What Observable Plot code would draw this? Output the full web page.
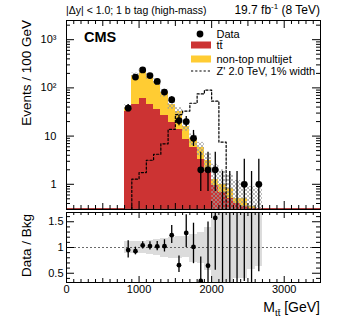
<!DOCTYPE html>
<html><head><meta charset="utf-8">
<script src="https://cdn.jsdelivr.net/npm/d3@7"></script>
<script src="https://cdn.jsdelivr.net/npm/@observablehq/plot@0.6"></script>
<style>
body{margin:0;background:#fff;}
#chart{position:relative;width:341px;height:320px;font-family:"Liberation Sans",Arial,Helvetica,sans-serif;}
#chart svg{position:absolute;left:0;overflow:visible;}
</style></head><body><div id="chart"></div>
<script>
// ---- data ----
const binWidth = 100;
const binLow    = [800,900,1000,1100,1200,1300,1400,1500,1600,1700,1800,1900,2000,2100,2200,2300,2400,2500,2600];
const dataCounts= [38,168,236,180,136,82,57,21,20,9,2,2,2,0,0,0,1,0,1];
const errDown   = [6.1,12.9,15.4,13.4,11.7,9.0,7.5,4.6,4.4,2.9,1.29,1.29,1.29,0,0,0,0.83,0,0.83];
const errUp     = [7.2,14.0,16.4,14.4,12.7,10.1,8.6,5.7,5.5,4.1,2.64,2.64,2.64,1.84,1.84,1.84,2.3,1.84,2.3];
const ttbar     = [33,45,60,45,36,27,19,14,8.7,5.7,3.3,1.9,0.95,0.68,0.5,0.4,0.35,0.3,0.28];
const multijet  = [7,136,167,130,97,53,27,18,6.9,3.2,2.4,1.2,0.32,0.32,0.3,0.1,0.15,0.05,0.04];
const bandLo    = [35.2,159,200,150,112,64,36,25,12.6,6.3,3.9,1.7,0.2,0.2,0.2,0.2,0.2,0.2,0.2];
const bandHi    = [44.8,203,254,198,153,94,55,39,19,11.1,7.4,4.3,2.6,2.0,1.6,1.2,1.1,0.9,0.8];
const zLow      = [900,1000,1100,1200,1300,1400,1500,1600,1700,1800,1900,2000,2100];
const zPrime    = [1.28,1.75,3.15,4.2,6.9,13.8,28,33,48,75,90,53,7.5];
const xTickLabels = [0,1000,2000,3000];
const yTickLabels = [1,10,100,1000];
const ratioTickLabels = [0.5,1,1.5];

const FONT = '"Liberation Sans", Arial, Helvetica, sans-serif';
const RED = "#cc3333", YEL = "#ffcc33";
const DASH = "2.2,2";

const rows = binLow.map((lo,i)=>({lo, hi: lo+binWidth, c: lo+binWidth/2,
  ttbar: ttbar[i], total: ttbar[i]+multijet[i], n: dataCounts[i], dn: errDown[i], up: errUp[i],
  bandLo: bandLo[i], bandHi: bandHi[i]}));
const zpts = [{x: zLow[0], y: 0.01}, ...zLow.map((x,i)=>({x, y: zPrime[i]})),
  {x: zLow[zLow.length-1]+binWidth, y: zPrime[zPrime.length-1]}, {x: zLow[zLow.length-1]+binWidth, y: 0.01}];

const W = 341, ML = 66, MR = 21;
const fw = W - ML - MR;
const xMinor = d3.range(0, 3501, 100).filter(v => v % 500 !== 0);
const xMid = d3.range(500, 3501, 1000);
const xMajor = d3.range(0, 3501, 1000);

function xTicks(fh, lmin, lmid, lmaj) {
  return [
    Plot.ruleX(xMinor, {x: d=>d, insetTop: fh-lmin, stroke:"black"}),
    Plot.ruleX(xMinor, {x: d=>d, insetBottom: fh-lmin, stroke:"black"}),
    Plot.ruleX(xMid, {x: d=>d, insetTop: fh-lmid, stroke:"black"}),
    Plot.ruleX(xMid, {x: d=>d, insetBottom: fh-lmid, stroke:"black"}),
    Plot.ruleX(xMajor, {x: d=>d, insetTop: fh-lmaj, stroke:"black"}),
    Plot.ruleX(xMajor, {x: d=>d, insetBottom: fh-lmaj, stroke:"black"})
  ];
}
function yTicks(minor, major, lmin, lmaj) {
  return [
    Plot.ruleY(minor, {y: d=>d, insetRight: fw-lmin, stroke:"black"}),
    Plot.ruleY(minor, {y: d=>d, insetLeft: fw-lmin, stroke:"black"}),
    Plot.ruleY(major, {y: d=>d, insetRight: fw-lmaj, stroke:"black"}),
    Plot.ruleY(major, {y: d=>d, insetLeft: fw-lmaj, stroke:"black"})
  ];
}

// ---- main panel ----
const mainH = 210, mainTop = 20, mainBot = 1;
const logMinor = [];
[0.1,1,10,100,1000].forEach(dec => d3.range(2,10).forEach(k => { const v = k*dec; if (v>=0.3 && v<=2500) logMinor.push(v); }));
const supers = {1:"1", 10:"10", 100:"10\u00B2", 1000:"10\u00B3"};

const main = Plot.plot({
  width: W, height: mainH, marginLeft: ML, marginRight: MR, marginTop: mainTop, marginBottom: mainBot,
  style: {background: "transparent", fontFamily: FONT, fontSize: "11px", overflow: "visible"},
  x: {domain: [0, 3500], axis: null},
  y: {type: "log", domain: [0.3, 2500], axis: null},
  marks: [
    Plot.rect(rows, {x1: "lo", x2: "hi", y1: () => 0.01, y2: "total", fill: YEL, clip: true, shapeRendering: "crispEdges"}),
    Plot.rect(rows, {x1: "lo", x2: "hi", y1: () => 0.01, y2: "ttbar", fill: RED, clip: true, shapeRendering: "crispEdges"}),
    Plot.ruleY([0.3], {stroke: "#b04040", dy: -1, strokeWidth: 1}),
    Plot.rect(rows, {x1: "lo", x2: "hi", y1: "bandLo", y2: "bandHi", fill: "url(#hatch)", clip: true}),
    Plot.line(zpts, {x: "x", y: "y", curve: "step-after", stroke: "black", strokeWidth: 1.2, strokeDasharray: DASH, clip: true}),
    Plot.ruleX(rows, {x: "c", y1: d => Math.max(d.n - d.dn, 0.01), y2: d => d.n + d.up, stroke: "black", strokeWidth: 1.3, clip: true}),
    Plot.dot(rows.filter(d => d.n > 0), {x: "c", y: "n", r: 3.4, fill: "black", stroke: "none"}),
    ...xTicks(mainH - mainTop - mainBot, 4, 6, 8),
    ...yTicks(logMinor, yTickLabels, 4, 8),
    Plot.frame({stroke: "black"}),
    Plot.axisY({ticks: yTickLabels, tickSize: 0, tickPadding: 10, tickFormat: d => supers[d], fontSize: 11, fill: "black"})
  ]
});
main.style.top = "0px";
{
  const defs = d3.select(main).insert("defs", ":first-child");
  const p = defs.append("pattern").attr("id", "hatch").attr("patternUnits", "userSpaceOnUse").attr("width", 4).attr("height", 4);
  p.append("path").attr("d", "M-1,1L1,-1M0,4L4,0M3,5L5,3").attr("stroke", "#999").attr("stroke-width", 0.7);
  p.append("path").attr("d", "M-1,3L1,5M0,0L4,4M3,-1L5,1").attr("stroke", "#999").attr("stroke-width", 0.7);
}

// ---- ratio panel ----
const rH = 110, rTop = 2, rBot = 38;
const ratioMinor = d3.range(4, 17).map(k => k/10).filter(v => Math.abs(v*2 - Math.round(v*2)) > 1e-6);
const ratio = Plot.plot({
  width: W, height: rH, marginLeft: ML, marginRight: MR, marginTop: rTop, marginBottom: rBot,
  style: {background: "transparent", fontFamily: FONT, fontSize: "11px", overflow: "visible"},
  x: {domain: [0, 3500], axis: null},
  y: {domain: [0.32, 1.68], axis: null},
  marks: [
    Plot.rect(rows, {x1: "lo", x2: "hi", y1: d => d.bandLo/d.total, y2: d => d.bandHi/d.total, fill: "#dcdcdc", clip: true, shapeRendering: "crispEdges"}),
    Plot.ruleY([1], {stroke: "#444", strokeDasharray: "2,2", strokeWidth: 0.8}),
    Plot.ruleX(rows, {x: "c", y1: d => (d.n - d.dn)/d.total, y2: d => (d.n + d.up)/d.total, stroke: "black", strokeWidth: 1.3, clip: true}),
    Plot.dot(rows.filter(d => d.n > 0), {x: "c", y: d => d.n/d.total, r: 2.4, fill: "black", stroke: "none", clip: true}),
    ...xTicks(rH - rTop - rBot, 3, 4, 6),
    ...yTicks(ratioMinor, ratioTickLabels, 4, 8),
    Plot.frame({stroke: "black"}),
    Plot.axisY({ticks: ratioTickLabels, tickSize: 0, tickPadding: 3, tickFormat: d => String(d), fontSize: 11, fill: "black"}),
    Plot.axisX({ticks: xTickLabels, tickSize: 0, tickPadding: 3, tickFormat: d => String(d), fontSize: 11, fill: "black"})
  ]
});
ratio.style.top = "210px";

const chart = document.getElementById("chart");
chart.appendChild(main);
chart.appendChild(ratio);

// ---- text overlay: titles, CMS label, legend ----
const ov = d3.select(chart).append("svg").attr("width", W).attr("height", 320)
  .style("top", "0px").style("pointer-events", "none").style("font-family", FONT);
ov.append("text").attr("x", 66).attr("y", 13.5).attr("font-size", 10.5).text("|\u0394y| < 1.0; 1 b tag (high-mass)");
const lumi = ov.append("text").attr("x", 320).attr("y", 14).attr("font-size", 12).attr("text-anchor", "end");
lumi.append("tspan").text("19.7 fb");
lumi.append("tspan").attr("font-size", 8).attr("dy", -5).text("-1");
lumi.append("tspan").attr("dy", 5).text(" (8 TeV)");
ov.append("text").attr("x", 84).attr("y", 41.5).attr("font-size", 14.5).attr("font-weight", "bold").text("CMS");

// legend
ov.append("circle").attr("cx", 200).attr("cy", 34).attr("r", 3.4).attr("fill", "black");
ov.append("text").attr("x", 216.5).attr("y", 38).attr("font-size", 11).text("Data");
ov.append("rect").attr("x", 191).attr("y", 41.5).attr("width", 20).attr("height", 7).attr("fill", RED);
ov.append("text").attr("x", 216.5).attr("y", 49).attr("font-size", 11).text("t\u0074\u0304");
ov.append("rect").attr("x", 191).attr("y", 55.5).attr("width", 20).attr("height", 7).attr("fill", YEL);
ov.append("text").attr("x", 216.5).attr("y", 63).attr("font-size", 11).text("non-top multijet");
ov.append("line").attr("x1", 191).attr("x2", 211).attr("y1", 71).attr("y2", 71).attr("stroke", "black").attr("stroke-width", 1.2).attr("stroke-dasharray", DASH);
ov.append("text").attr("x", 216.5).attr("y", 75).attr("font-size", 11).text("Z' 2.0 TeV, 1% width");

// axis titles
ov.append("text").attr("transform", "translate(31,20) rotate(-90)").attr("text-anchor", "end").attr("font-size", 13.5).text("Events / 100 GeV");
ov.append("text").attr("transform", "translate(31,214) rotate(-90)").attr("text-anchor", "end").attr("font-size", 13.5).text("Data / Bkg");
const xt = ov.append("text").attr("x", 320).attr("y", 312).attr("text-anchor", "end").attr("font-size", 14);
xt.append("tspan").text("M");
xt.append("tspan").attr("font-size", 9.5).attr("dy", 4).text("t\u0074\u0304");
xt.append("tspan").attr("dy", -4).text(" [GeV]");
</script></body></html>
